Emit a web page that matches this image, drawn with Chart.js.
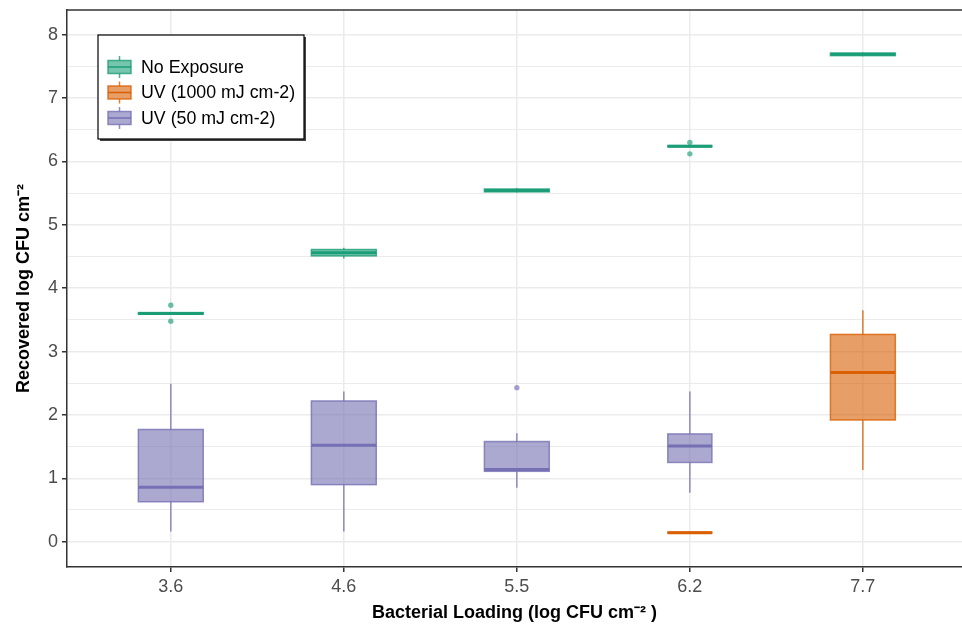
<!DOCTYPE html>
<html>
<head>
<meta charset="utf-8">
<script src="https://cdn.jsdelivr.net/npm/chart.js@4.4.1/dist/chart.umd.min.js"></script>
<style>
  html, body { margin: 0; padding: 0; background: #fff; }
</style>
</head>
<body>
<canvas id="mycanvas" width="962" height="629"></canvas>
<script>
var categories = ['3.6', '4.6', '5.5', '6.2', '7.7'];
var groupNames = ['No Exposure', 'UV (1000 mJ cm-2)', 'UV (50 mJ cm-2)'];

// each box: [lower whisker, Q1, median, Q3, upper whisker], null = no box
var noExposure = [
  [3.585, 3.59, 3.60, 3.615, 3.62],
  [4.47, 4.51, 4.56, 4.61, 4.64],
  [5.51, 5.52, 5.54, 5.565, 5.58],
  [6.225, 6.23, 6.24, 6.25, 6.255],
  [7.66, 7.67, 7.69, 7.71, 7.72]
];
var uv1000 = [
  null,
  null,
  null,
  [0.13, 0.135, 0.14, 0.15, 0.155],
  [1.13, 1.92, 2.67, 3.27, 3.65]
];
var uv50 = [
  [0.16, 0.63, 0.86, 1.77, 2.49],
  [0.16, 0.90, 1.52, 2.22, 2.37],
  [0.85, 1.11, 1.14, 1.58, 1.71],
  [0.77, 1.25, 1.51, 1.70, 2.37],
  null
];

// outlying points per category
var noExposureOut = [[3.73, 3.48], [], [], [6.30, 6.12], []];
var uv1000Out = [[], [], [], [], []];
var uv50Out = [[], [], [2.43], [], []];

var yTicks = [0, 1, 2, 3, 4, 5, 6, 7, 8];

// box widths in category units (6.2 boxes are narrower)
var boxWidths = [0.375, 0.375, 0.375, 0.255, 0.375];

var green = '27, 158, 119', orange = '217, 95, 2', purple = '117, 112, 179';
var series = [
  { name: groupNames[0], boxes: noExposure, out: noExposureOut, rgb: green },
  { name: groupNames[1], boxes: uv1000, out: uv1000Out, rgb: orange },
  { name: groupNames[2], boxes: uv50, out: uv50Out, rgb: purple }
];

function outPoints(list) {
  var pts = [];
  list.forEach(function(vals, i) {
    vals.forEach(function(v) { pts.push({ x: i + 1, y: v }); });
  });
  return pts;
}

function drawBox(ctx, cx, half, yy, rgb, medWidth) {
  // yy: pixel positions of [lo, q1, med, q3, hi]
  ctx.strokeStyle = 'rgba(' + rgb + ', 0.8)';
  ctx.lineWidth = 1.5;
  ctx.beginPath();
  ctx.moveTo(cx, yy[3]); ctx.lineTo(cx, yy[4]);
  ctx.moveTo(cx, yy[1]); ctx.lineTo(cx, yy[0]);
  ctx.stroke();
  ctx.fillStyle = 'rgba(' + rgb + ', 0.6)';
  ctx.fillRect(cx - half, yy[3], half * 2, yy[1] - yy[3]);
  ctx.strokeRect(cx - half, yy[3], half * 2, yy[1] - yy[3]);
  ctx.strokeStyle = 'rgb(' + rgb + ')';
  ctx.lineWidth = medWidth;
  ctx.beginPath();
  ctx.moveTo(cx - half, yy[2]); ctx.lineTo(cx + half, yy[2]);
  ctx.stroke();
}

var boxPlugin = {
  id: 'boxes',
  beforeDatasetsDraw: function(chart) {
    var ctx = chart.ctx, xs = chart.scales.x, ys = chart.scales.y, a = chart.chartArea;
    ctx.save();
    ctx.beginPath();
    ctx.rect(a.left, a.top, a.right - a.left, a.bottom - a.top);
    ctx.clip();
    series.forEach(function(s) {
      s.boxes.forEach(function(b, i) {
        if (!b) return;
        var cx = xs.getPixelForValue(i + 1);
        var half = xs.getPixelForValue(i + 1 + boxWidths[i] / 2) - cx;
        var yy = b.map(function(v) { return ys.getPixelForValue(v); });
        drawBox(ctx, cx, half, yy, s.rgb, 3);
      });
    });
    ctx.restore();
  },
  afterDraw: function(chart) {
    var ctx = chart.ctx, a = chart.chartArea;
    ctx.save();
    // top panel border
    ctx.strokeStyle = '#333333';
    ctx.lineWidth = 1.5;
    ctx.beginPath();
    ctx.moveTo(a.left, a.top); ctx.lineTo(a.right, a.top);
    ctx.stroke();

    // legend
    var lx = a.left + 31, ly = a.top + 25, lw = 206, lh = 104;
    ctx.fillStyle = '#444';
    ctx.fillRect(lx + 2, ly + 2, lw, lh);
    ctx.fillStyle = '#fff';
    ctx.fillRect(lx, ly, lw, lh);
    ctx.strokeStyle = '#000';
    ctx.lineWidth = 1.2;
    ctx.strokeRect(lx, ly, lw, lh);
    ctx.font = '17.8px "Liberation Sans", Arial, sans-serif';
    ctx.textBaseline = 'middle';
    series.forEach(function(s, k) {
      var cy = ly + 32 + k * 25.5;
      drawBox(ctx, lx + 21.5, 11.5, [cy + 11, cy + 6.5, cy, cy - 6.5, cy - 11], s.rgb, 1.5);
      ctx.fillStyle = '#000';
      ctx.fillText(s.name, lx + 43, cy + 1);
    });
    ctx.restore();
  }
};

var ctx = document.getElementById('mycanvas');
var tickFont = { family: '"Liberation Sans", Arial, sans-serif', size: 18 };
var titleFont = { family: '"Liberation Sans", Arial, sans-serif', size: 18, weight: 'bold' };

var chart = new Chart(ctx, {
  type: 'scatter',
  data: {
    datasets: series.map(function(s) {
      return {
        label: s.name,
        data: outPoints(s.out),
        pointRadius: 2.7,
        pointBorderWidth: 0,
        backgroundColor: 'rgba(' + s.rgb + ', 0.65)',
        borderColor: 'rgba(' + s.rgb + ', 0.65)'
      };
    })
  },
  options: {
    responsive: false,
    animation: false,
    layout: { autoPadding: false, padding: { top: 10, right: 0, left: 0, bottom: 0 } },
    plugins: { legend: { display: false }, tooltip: { enabled: false } },
    scales: {
      x: {
        type: 'linear',
        min: 0.4,
        max: 5.573,
        afterBuildTicks: function(scale) {
          scale.ticks = categories.map(function(c, i) { return { value: i + 1 }; });
        },
        afterFit: function(scale) {
          scale.height = 62;
          scale.paddingLeft = 0;
          scale.paddingRight = 0;
        },
        ticks: {
          autoSkip: false,
          maxRotation: 0,
          padding: 4,
          color: '#4D4D4D',
          font: tickFont,
          callback: function(v) { return categories[Math.round(v) - 1]; }
        },
        grid: { color: '#EBEBEB', lineWidth: 1.5, tickLength: 5, tickColor: '#333333', tickWidth: 1.5 },
        border: { display: true, color: '#333333', width: 1.5 },
        title: {
          display: true,
          text: 'Bacterial Loading (log CFU cm\u207B\u00B2 )',
          color: '#000',
          font: titleFont,
          padding: { top: 0, bottom: 5 }
        }
      },
      y: {
        min: -0.4,
        max: 8.39,
        afterBuildTicks: function(scale) {
          var t = [];
          yTicks.forEach(function(v, i) {
            t.push({ value: v });
            if (i < yTicks.length - 1) t.push({ value: v + 0.5 });
          });
          scale.ticks = t;
        },
        afterFit: function(scale) {
          scale.width = 67;
          scale.paddingTop = 0;
          scale.paddingBottom = 0;
        },
        ticks: {
          autoSkip: false,
          padding: 4,
          color: '#4D4D4D',
          font: tickFont,
          callback: function(v) { return v % 1 === 0 ? String(v) : ''; }
        },
        grid: {
          color: '#EBEBEB',
          lineWidth: function(c) { return c.tick && c.tick.value % 1 === 0 ? 1.5 : 1; },
          tickLength: 5,
          tickWidth: 1.5,
          tickColor: function(c) { return c.tick && c.tick.value % 1 === 0 ? '#333333' : 'rgba(0,0,0,0)'; }
        },
        border: { display: true, color: '#333333', width: 1.5 },
        title: {
          display: true,
          text: 'Recovered log CFU cm\u207B\u00B2',
          color: '#000',
          font: titleFont,
          padding: { top: 13, bottom: 0 }
        }
      }
    }
  },
  plugins: [boxPlugin]
});
</script>
</body>
</html>
